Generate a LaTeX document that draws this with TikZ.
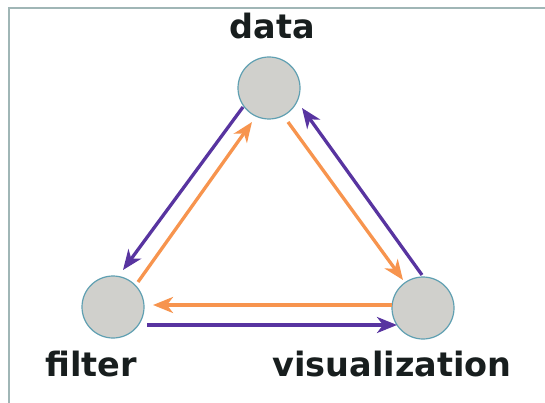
\documentclass[tikz,border=0pt]{standalone}
\usepackage{fontspec}
\setmainfont{DejaVu Sans}
\usetikzlibrary{arrows.meta}
\definecolor{flowpurple}{RGB}{88,52,160}
\definecolor{floworange}{RGB}{247,148,78}
\definecolor{nodefill}{RGB}{208,208,204}
\definecolor{nodeedge}{RGB}{96,160,178}
\definecolor{framecol}{RGB}{160,182,182}
\definecolor{labelcol}{RGB}{24,30,30}
\begin{document}
\begin{tikzpicture}[x=1pt,y=-1pt,
  stage/.style={circle,draw=nodeedge,fill=nodefill,line width=1.2pt,minimum size=62pt,inner sep=0pt},
  caption/.style={font=\bfseries\fontsize{33.5}{34}\selectfont,text=labelcol,anchor=base,inner sep=0pt},
  flow/.style={line width=3.3pt,-{Stealth[length=20pt,width=16pt,inset=6pt]}},
  pflow/.style={flow,draw=flowpurple},
  oflow/.style={flow,draw=floworange}]
\useasboundingbox (0,0) rectangle (545,403);
\fill[white] (0,0) rectangle (545,403);
% thin frame
\draw[framecol,line width=1.2pt] (9,403) -- (9,8) -- (545,8);

% the three stages
\node[stage] (data)   at (269,88)  {};
\node[stage] (filter) at (113,307) {};
\node[stage] (vis)    at (423,308) {};

% their captions
\node[caption] (datalabel)   at (272,39)  {data};
\node[caption] (filterlabel) at (91,376)  {filter};
\node[caption] (vislabel)    at (392,376) {visualization};

% data <-> filter
\draw[pflow] ([shift={(-26,19)}]data.center) -- ([shift={(10,-37)}]filter.center);
\draw[oflow] ([shift={(25,-25)}]filter.center) -- ([shift={(-17,34)}]data.center);

% data <-> visualization
\draw[oflow] ([shift={(19,34)}]data.center) -- ([shift={(-20,-28)}]vis.center);
\draw[pflow] ([shift={(-1,-33)}]vis.center) -- ([shift={(33,20)}]data.center);

% visualization <-> filter
\draw[oflow] ([shift={(-31,-3)}]vis.center) -- ([shift={(40,-2)}]filter.center);
\draw[pflow] ([shift={(34,18)}]filter.center) -- ([shift={(-26,17)}]vis.center);
\end{tikzpicture}
\end{document}
